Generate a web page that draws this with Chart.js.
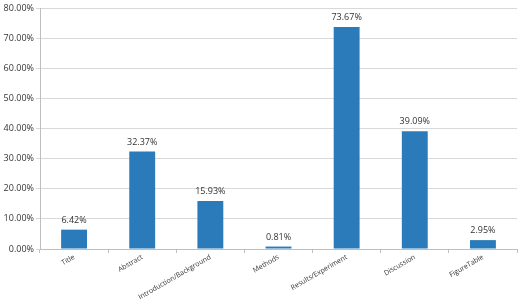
<!DOCTYPE html>
<html>
<head>
<meta charset="utf-8">
<script src="https://cdn.jsdelivr.net/npm/chart.js@4"></script>
<style>
  html, body { margin: 0; padding: 0; background: #fff; }
  #wrap { width: 520px; height: 300px; }
</style>
</head>
<body>
<div id="wrap"><canvas id="secoesChart"></canvas></div>
<script>
const categorias = ['Title', 'Abstract', 'Introduction/Background', 'Methods', 'Results/Experiment', 'Discussion', 'FigureTable'];
const percentuais = [6.42, 32.37, 15.93, 0.81, 73.67, 39.09, 2.95];
const ticksY = [0, 10, 20, 30, 40, 50, 60, 70, 80];

const COR_BARRA = '#2b7bba';
const FONTE = "'Open Sans', 'Liberation Sans', sans-serif";

// rotulos de valor acima das barras
const rotulosPlugin = {
    id: 'rotulos',
    afterDatasetsDraw(chart) {
        const ctx = chart.ctx;
        const meta = chart.getDatasetMeta(0);
        ctx.save();
        ctx.font = '9px ' + FONTE;
        ctx.fillStyle = '#333';
        ctx.textAlign = 'center';
        ctx.textBaseline = 'bottom';
        meta.data.forEach((bar, i) => {
            ctx.fillText(percentuais[i].toFixed(2) + '%', bar.x, bar.y - 5);
        });
        ctx.restore();
    }
};

new Chart(document.getElementById('secoesChart').getContext('2d'), {
    type: 'bar',
    data: {
        labels: categorias,
        datasets: [{
            data: percentuais,
            backgroundColor: COR_BARRA,
            borderWidth: 0,
            categoryPercentage: 1,
            barPercentage: 0.38
        }]
    },
    options: {
        responsive: true,
        maintainAspectRatio: false,
        animation: false,
        layout: { padding: { top: 8, right: 3, left: 0, bottom: 0 } },
        plugins: {
            legend: { display: false },
            tooltip: { enabled: false }
        },
        scales: {
            x: {
                grid: {
                    display: true,
                    drawOnChartArea: false,
                    offset: true,
                    tickLength: 4,
                    color: '#bfbfbf'
                },
                border: { color: '#bfbfbf' },
                ticks: {
                    font: { family: FONTE, size: 7 },
                    color: '#333',
                    minRotation: 30,
                    maxRotation: 30,
                    autoSkip: false,
                    padding: 0
                },
                afterFit: function(scale) { scale.height = 51; }
            },
            y: {
                min: 0,
                max: 80,
                afterBuildTicks: function(scale) {
                    scale.ticks = ticksY.map(v => ({ value: v }));
                },
                grid: {
                    color: '#d9d9d9',
                    tickLength: 4
                },
                border: { color: '#bfbfbf' },
                ticks: {
                    font: { family: FONTE, size: 9 },
                    color: '#333',
                    padding: 2,
                    callback: function(value) {
                        return value.toFixed(2) + '%';
                    }
                },
                afterFit: function(scale) { scale.width = 40; }
            }
        }
    },
    plugins: [rotulosPlugin]
});
</script>
</body>
</html>
